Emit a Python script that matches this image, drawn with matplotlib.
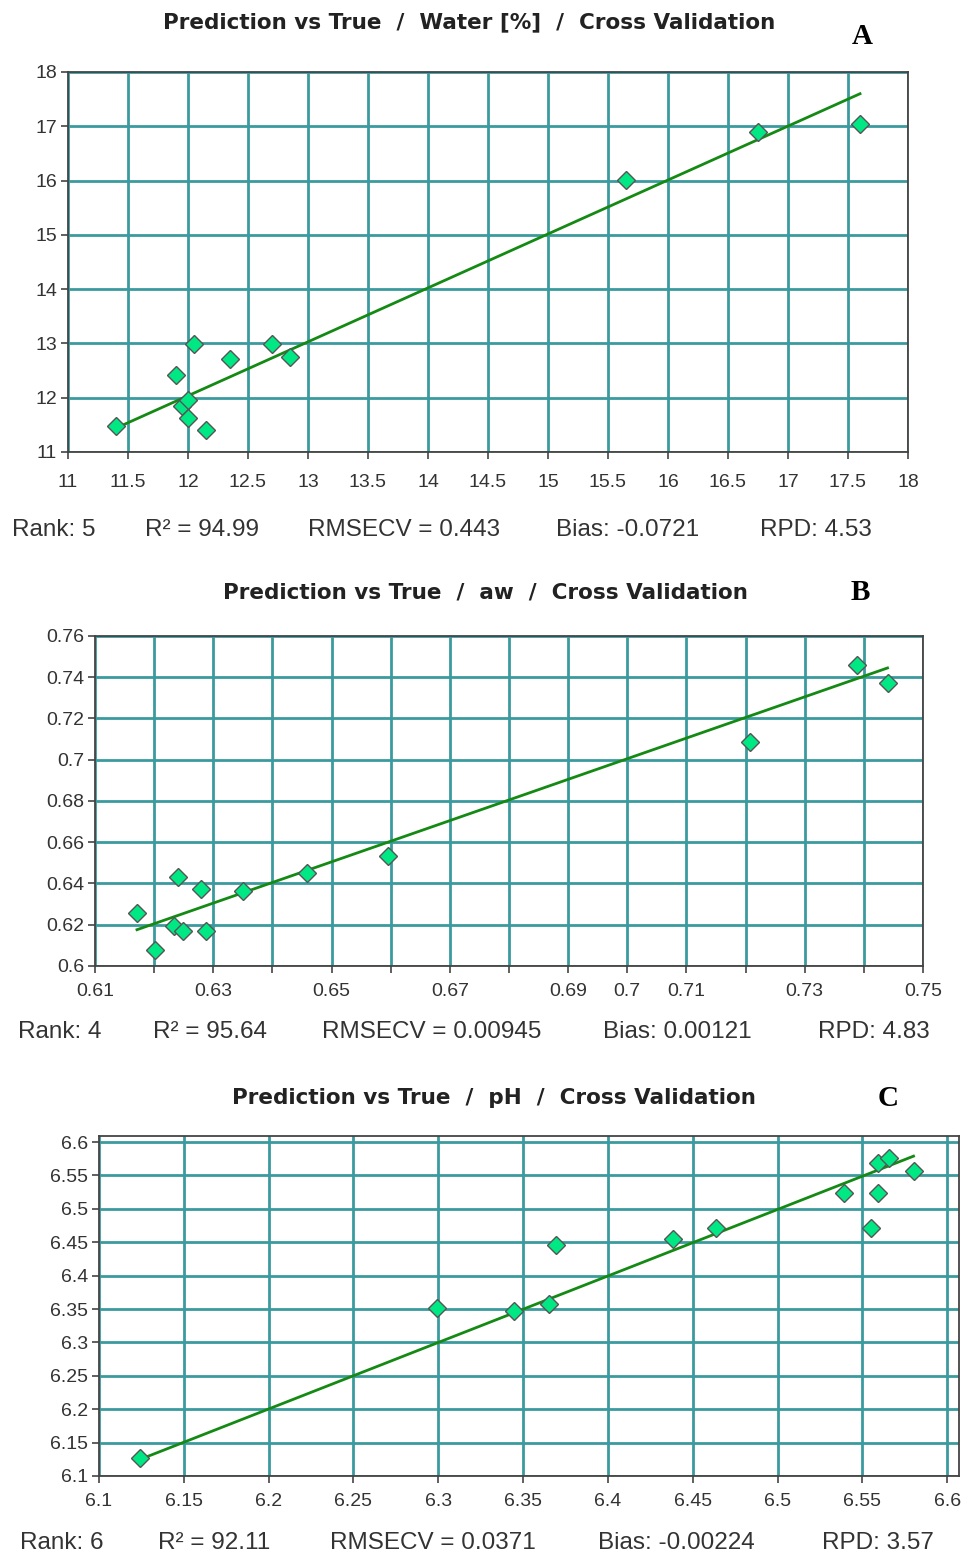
import matplotlib
matplotlib.use("Agg")
import matplotlib.pyplot as plt
import numpy as np
from matplotlib.ticker import FixedLocator, FixedFormatter

# ---------------- data ----------------
true_A = [11.40, 11.90, 11.95, 12.00, 12.00, 12.05, 12.15, 12.35, 12.70, 12.85, 15.65, 16.75, 17.60]
pred_A = [11.48, 12.41, 11.85, 11.95, 11.63, 12.99, 11.40, 12.72, 12.99, 12.75, 16.01, 16.90, 17.05]
fit_A = (0.9935, 0.114)  # slope, intercept
stats_A = ["Rank: 5", "R\u00b2 = 94.99", "RMSECV = 0.443", "Bias: -0.0721", "RPD: 4.53"]
title_A = "Prediction vs True  /  Water [%]  /  Cross Validation"
xticks_A = [11, 11.5, 12, 12.5, 13, 13.5, 14, 14.5, 15, 15.5, 16, 16.5, 17, 17.5, 18]
xlabels_A = ["11", "11.5", "12", "12.5", "13", "13.5", "14", "14.5", "15", "15.5", "16", "16.5", "17", "17.5", "18"]
yticks_A = [11, 12, 13, 14, 15, 16, 17, 18]
ylabels_A = ["11", "12", "13", "14", "15", "16", "17", "18"]

true_B = [0.6171, 0.6201, 0.6234, 0.6240, 0.6248, 0.6280, 0.6287, 0.6351, 0.6458, 0.6596, 0.7208, 0.7388, 0.7440]
pred_B = [0.6256, 0.6078, 0.6194, 0.6433, 0.6171, 0.6372, 0.6171, 0.6365, 0.6449, 0.6535, 0.7088, 0.7459, 0.7374]
fit_B = (1.0, 0.0005)
stats_B = ["Rank: 4", "R\u00b2 = 95.64", "RMSECV = 0.00945", "Bias: 0.00121", "RPD: 4.83"]
title_B = "Prediction vs True  /  aw  /  Cross Validation"
xticks_B = [0.61, 0.62, 0.63, 0.64, 0.65, 0.66, 0.67, 0.68, 0.69, 0.70, 0.71, 0.72, 0.73, 0.74, 0.75]
xlabels_B = ["0.61", "", "0.63", "", "0.65", "", "0.67", "", "0.69", "0.7", "0.71", "", "0.73", "", "0.75"]
yticks_B = [0.60, 0.62, 0.64, 0.66, 0.68, 0.70, 0.72, 0.74, 0.76]
ylabels_B = ["0.6", "0.62", "0.64", "0.66", "0.68", "0.7", "0.72", "0.74", "0.76"]

true_C = [6.1242, 6.2995, 6.3449, 6.3655, 6.3695, 6.4386, 6.4638, 6.5394, 6.5552, 6.5595, 6.5595, 6.5655, 6.5802]
pred_C = [6.1273, 6.3520, 6.3467, 6.3570, 6.4463, 6.4548, 6.4712, 6.5243, 6.4720, 6.5240, 6.5680, 6.5766, 6.5567]
fit_C = (0.9956, 0.0276)
stats_C = ["Rank: 6", "R\u00b2 = 92.11", "RMSECV = 0.0371", "Bias: -0.00224", "RPD: 3.57"]
title_C = "Prediction vs True  /  pH  /  Cross Validation"
xticks_C = [6.1, 6.15, 6.2, 6.25, 6.3, 6.35, 6.4, 6.45, 6.5, 6.55, 6.6]
xlabels_C = ["6.1", "6.15", "6.2", "6.25", "6.3", "6.35", "6.4", "6.45", "6.5", "6.55", "6.6"]
yticks_C = [6.1, 6.15, 6.2, 6.25, 6.3, 6.35, 6.4, 6.45, 6.5, 6.55, 6.6]
ylabels_C = ["6.1", "6.15", "6.2", "6.25", "6.3", "6.35", "6.4", "6.45", "6.5", "6.55", "6.6"]

# ---------------- figure ----------------
W, H = 968, 1557
fig = plt.figure(figsize=(W / 100, H / 100), dpi=100)
fig.patch.set_facecolor("white")

SANS = ["Liberation Sans", "DejaVu Sans"]
GRID = "#3a9a9e"
MARK_FACE = "#00e884"
MARK_EDGE = "#555555"
LINE = "#148a14"
TXT = "#333333"


def px_axes(l, r, t, b):
    return fig.add_axes([l / W, 1 - b / H, (r - l) / W, (b - t) / H])


def panel(rect, x, y, fit, xlim, ylim, xt, xl, yt, yl, xpad):
    ax = px_axes(*rect)
    ax.set_xlim(*xlim)
    ax.set_ylim(*ylim)
    ax.xaxis.set_major_locator(FixedLocator(xt))
    ax.xaxis.set_major_formatter(FixedFormatter(xl))
    ax.yaxis.set_major_locator(FixedLocator(yt))
    ax.yaxis.set_major_formatter(FixedFormatter(yl))
    ax.grid(True, color=GRID, lw=2.0, zorder=0)
    ax.set_axisbelow(True)
    for s in ax.spines.values():
        s.set_color("#444444")
        s.set_linewidth(1.3)
    ax.tick_params(direction="out", length=5, width=1.2, color="#444444",
                   labelsize=14, labelcolor=TXT)
    ax.tick_params(axis="x", pad=xpad)
    ax.tick_params(axis="y", pad=3)
    for lab in ax.get_xticklabels() + ax.get_yticklabels():
        lab.set_family(SANS)
    xs = np.array([min(x), max(x)])
    ax.plot(xs, fit[0] * xs + fit[1], color=LINE, lw=2.0, zorder=3)
    ax.plot(x, y, linestyle="none", marker="D", ms=9.5, mfc=MARK_FACE,
            mec=MARK_EDGE, mew=1.0, zorder=4)
    return ax


panel((68, 908, 72, 452), true_A, pred_A, fit_A, (11, 18), (11, 18),
      xticks_A, xlabels_A, yticks_A, ylabels_A, 11)
panel((95, 923, 636, 966), true_B, pred_B, fit_B, (0.61, 0.75), (0.60, 0.76),
      xticks_B, xlabels_B, yticks_B, ylabels_B, 7.5)
panel((99, 959, 1136, 1476), true_C, pred_C, fit_C, (6.1, 6.607), (6.1, 6.609),
      xticks_C, xlabels_C, yticks_C, ylabels_C, 7.5)


def ftext(x, y, s, **kw):
    fig.text(x / W, 1 - y / H, s, **kw)


# titles
for (cx, cy, t) in [(469, 22, title_A), (485, 592, title_B), (494, 1098, title_C)]:
    ftext(cx, cy, t, ha="center", va="center", fontsize=15.5, fontweight="bold",
          family=["DejaVu Sans"], color="#222222")

# panel letters
for (cx, cy, t) in [(862, 37, "A"), (860, 592, "B"), (888, 1098, "C")]:
    ftext(cx, cy, t, ha="center", va="center", fontsize=21, fontweight="bold",
          family=["Liberation Serif", "DejaVu Serif"], color="black")

# stats rows
rows = [
    (530, [12, 145, 308, 556, 760], stats_A),
    (1032, [18, 153, 322, 603, 818], stats_B),
    (1543, [20, 158, 330, 598, 822], stats_C),
]
for y, xs, labels in rows:
    for x, s in zip(xs, labels):
        ftext(x, y, s, ha="left", va="center", fontsize=17.5, family=SANS, color=TXT)

fig.savefig("out.png", dpi=100, facecolor="white")
